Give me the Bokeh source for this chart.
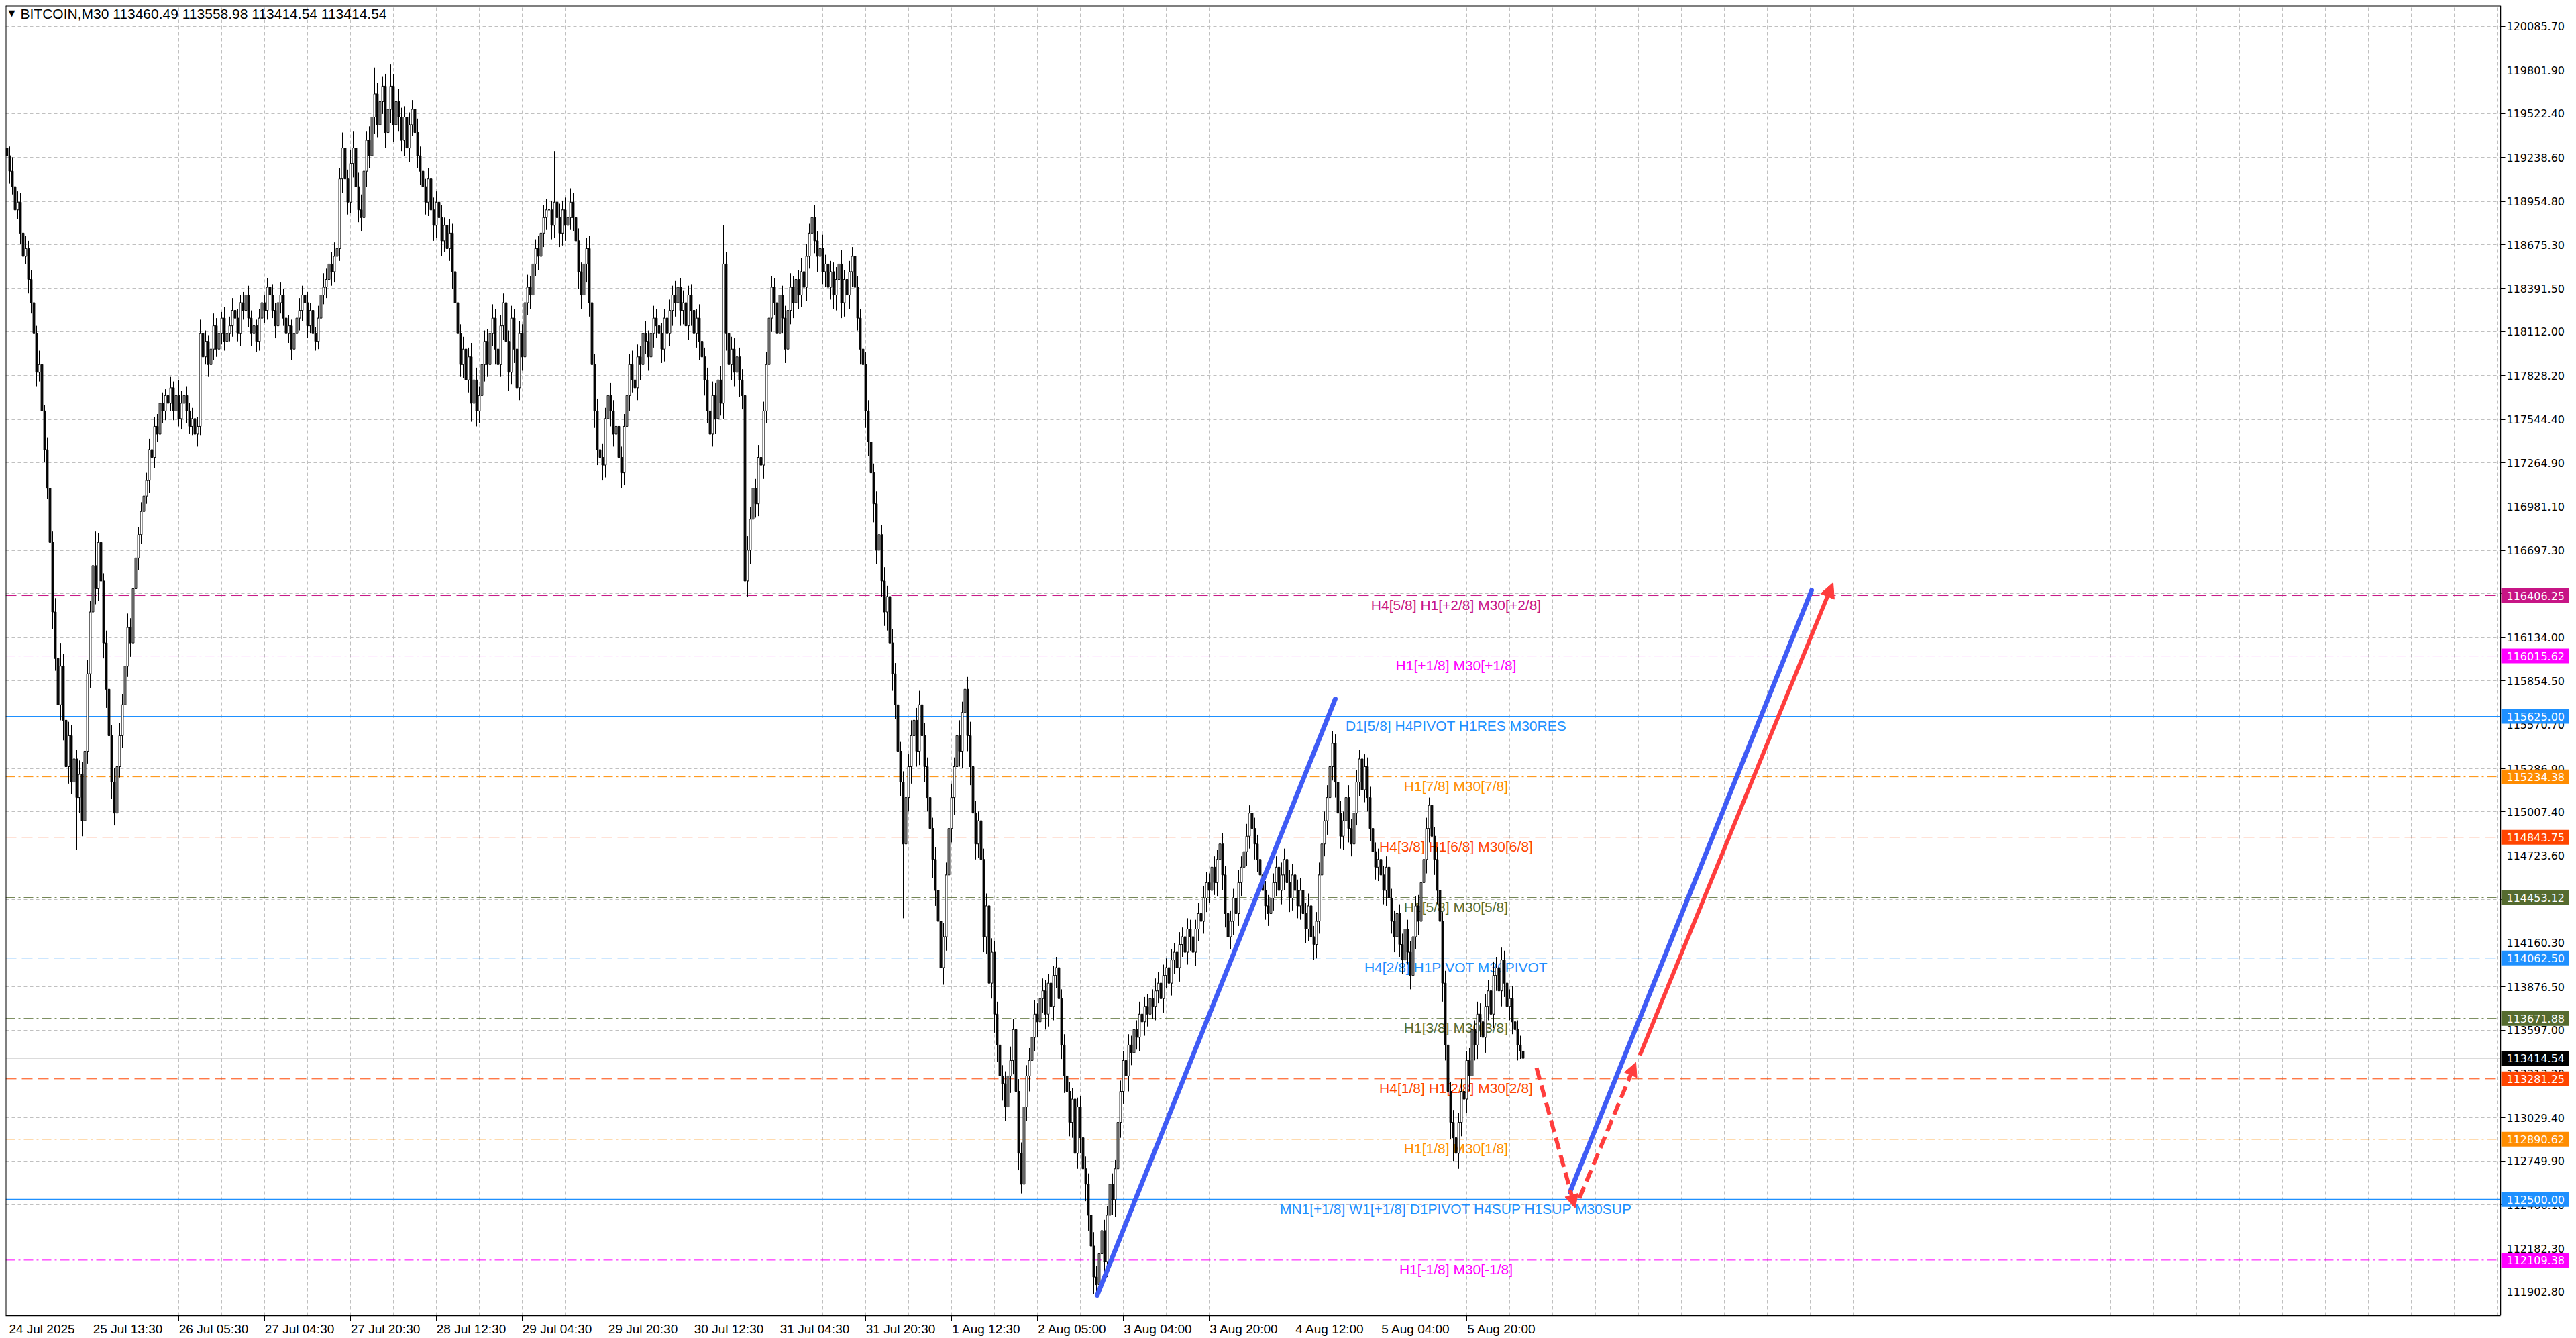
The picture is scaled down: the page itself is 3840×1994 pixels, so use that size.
from bokeh.plotting import figure
from bokeh.models import (Span, FixedTicker, PrintfTickFormatter, Arrow,
                          NormalHead, ColumnDataSource, Range1d)
from bokeh.core.properties import value
from bokeh.embed import file_html
from bokeh.resources import INLINE

# ---------------- data ----------------
symbol = "BITCOIN,M30"
last_ohlc = [113460.49, 113558.98, 113414.54, 113414.54]

first_open = 119300
closes = [
    119250, 119150, 119050, 118900, 118950, 118750, 118600, 118650, 118450, 118300,
    118100, 117850, 117900, 117600, 117350, 117100, 116750, 116300, 116000, 115700,
    115950, 115600, 115300, 115500, 115200, 115350, 115100, 115250, 114950, 115400,
    115900, 116300, 116600, 116450, 116750, 116500, 116100, 115800, 115500, 115200,
    115000, 115300, 115500, 115700, 115950, 116200, 116100, 116450, 116650, 116800,
    116950, 117050, 117150, 117350, 117300, 117500, 117450, 117650, 117600, 117700,
    117650, 117750, 117600, 117700, 117550, 117650, 117700, 117600, 117500, 117550,
    117450, 117500, 118100, 117950, 118050, 117900, 118000, 118150, 118000, 118100,
    118200, 118050, 118100, 118150, 118250, 118200, 118100, 118300, 118250, 118350,
    118200, 118100, 118150, 118050, 118200, 118300, 118250, 118400, 118350, 118250,
    118150, 118300, 118350, 118200, 118100, 118150, 118000, 118100, 118200, 118250,
    118350, 118300, 118150, 118250, 118100, 118050, 118200, 118350, 118400, 118450,
    118550, 118500, 118600, 118650, 119100, 119300, 119100, 118950, 119200, 119300,
    119050, 118900, 118850, 119150, 119350, 119250, 119500, 119650, 119450, 119600,
    119700, 119400, 119550, 119700, 119450, 119600, 119500, 119350, 119500, 119300,
    119450, 119550, 119400, 119250, 119150, 119050, 118950, 119100, 118900, 118800,
    118950, 118850, 118700, 118800, 118650, 118750, 118500, 118300, 118100, 117900,
    118000, 117800, 117950, 117650, 117800, 117600, 117700, 117900, 118050, 117900,
    118100, 118200, 118000, 117900, 118150, 118300, 118050, 117850, 118200, 118000,
    117750, 118100, 117950, 118300, 118400, 118350, 118550, 118650, 118600, 118750,
    118850, 118900, 118900, 118800, 118950, 118850, 118750, 118900, 118800, 118850,
    118950, 118850, 118700, 118500, 118350, 118550, 118650, 118300, 117900, 117600,
    117350, 117300, 117250, 117550, 117700, 117600, 117450, 117500, 117300, 117200,
    117500, 117700, 117900, 117800, 117750, 117950, 117900, 118100, 118050, 117950,
    118100, 118200, 118150, 118100, 118000, 118200, 118100, 118250, 118350, 118300,
    118400, 118250, 118300, 118150, 118350, 118250, 118100, 118200, 118050, 117950,
    117800, 117600, 117450, 117700, 117550, 117800, 117650, 118550, 118100, 117900,
    118000, 117850, 117950, 117800, 117700, 116500, 116700, 116900, 117100, 117000,
    117300, 117250, 117600, 117900, 118200, 118400, 118300, 118100, 118350, 118200,
    118000, 118250, 118400, 118300, 118450, 118350, 118500, 118400, 118600, 118750,
    118850, 118700, 118600, 118650, 118500, 118550, 118400, 118500, 118350, 118450,
    118550, 118300, 118450, 118350, 118500, 118600, 118400, 118200, 118000, 117900,
    117600, 117400, 117200, 117000, 116700, 116800, 116500, 116300, 116400, 116100,
    115900, 115700, 115400, 115200, 114800, 115100, 115300, 115500, 115600, 115400,
    115700, 115500, 115300, 115100, 114900, 114700, 114500, 114300, 114000, 114200,
    114600, 114900, 115100, 115300, 115500, 115400, 115650, 115800, 115500, 115300,
    115000, 114800, 114950, 114700, 114200, 114400, 113900, 114100, 113700, 113500,
    113300, 113250, 113100, 113300, 113400, 113600, 113200, 112800, 112600, 113100,
    113300, 113400, 113550, 113700, 113650, 113800, 113850, 113700, 113900, 113750,
    113950, 114000, 113800, 113500, 113300, 113200, 113000, 113150, 112800, 113100,
    112900, 112700, 112600, 112400, 112200, 112000, 111950, 112150, 112300, 112100,
    112400, 112600, 112500, 112700, 113000, 113200, 113400, 113300, 113500, 113450,
    113600, 113550, 113700, 113650, 113750, 113700, 113800, 113750, 113850, 113900,
    113800, 113950, 114000, 113900, 114050, 114100, 114000, 114150, 114200, 114100,
    114250, 114200, 114100, 114250, 114350, 114300, 114450, 114550, 114500, 114650,
    114550, 114700, 114800, 114600, 114350, 114200, 114300, 114450, 114350, 114550,
    114650, 114750, 114850, 115000, 114900, 114800, 114700, 114600, 114500, 114400,
    114350, 114450, 114550, 114650, 114500, 114600, 114700, 114550, 114450, 114600,
    114500, 114400, 114500, 114350, 114250, 114400, 114200, 114150, 114300, 114600,
    114800, 114950, 115100, 115300, 115450, 115200, 115000, 114850, 114950, 115100,
    114900, 114800, 115000, 115200, 115350, 115150, 115300, 115100, 114900, 114750,
    114650, 114700, 114600, 114500, 114650, 114450, 114300, 114200, 114350, 114150,
    114050, 114250, 114100, 113950, 114200, 114400, 114300, 114550, 114700, 114900,
    115050, 114850, 114700, 114500, 114300, 113900, 113500, 113200, 113000, 112900,
    112800, 113000, 113200, 113150, 113400, 113300, 113600, 113500, 113700, 113650,
    113550, 113750, 113850, 113700, 113950, 114000, 113850, 114050, 113900, 113750,
    113800, 113650, 113600, 113500, 113460.49, 113414.54,
]
up_wick = [
    80, 60, 90, 50, 70, 60, 40, 80, 50, 60,
    70, 50, 90, 60, 40, 80, 50, 70, 90, 60,
    150, 80, 120, 90, 70, 110, 60, 90, 80, 120,
    90, 70, 120, 220, 60, 100, 50, 80, 60, 70,
    90, 60, 80, 70, 50, 90, 60, 80, 70, 50,
    60, 80, 50, 70, 40, 60, 80, 50, 70, 40,
    50, 70, 40, 60, 100, 80, 40, 60, 50, 70,
    40, 60, 90, 50, 70, 40, 60, 80, 50, 60,
    40, 70, 50, 60, 80, 40, 60, 50, 70, 40,
    60, 50, 70, 40, 60, 80, 50, 60, 40, 70,
    50, 60, 80, 40, 50, 70, 40, 60, 50, 80,
    60, 40, 70, 50, 60, 40, 80, 60, 90, 70,
    100, 80, 90, 120, 70, 100, 80, 60, 90, 110,
    70, 90, 100, 80, 60, 90, 60, 170, 70, 90,
    60, 80, 90, 140, 80, 70, 80, 60, 70, 90,
    80, 60, 70, 90, 60, 80, 50, 70, 60, 80,
    70, 60, 80, 50, 70, 90, 60, 80, 70, 60,
    80, 70, 60, 90, 70, 80, 60, 90, 70, 80,
    70, 90, 60, 80, 70, 60, 90, 70, 80, 60,
    70, 80, 60, 90, 80, 70, 90, 60, 80, 90,
    80, 70, 90, 60, 330, 70, 90, 60, 80, 70,
    90, 60, 70, 80, 60, 90, 70, 80, 60, 70,
    80, 60, 90, 70, 60, 80, 70, 60, 90, 70,
    80, 60, 70, 90, 60, 80, 70, 60, 80, 70,
    70, 80, 60, 90, 70, 60, 80, 70, 60, 90,
    70, 60, 80, 90, 60, 70, 80, 60, 90, 70,
    60, 80, 70, 90, 80, 60, 90, 250, 80, 60,
    80, 70, 90, 60, 70, 150, 90, 80, 70, 60,
    80, 70, 60, 80, 90, 70, 60, 80, 70, 60,
    80, 60, 90, 70, 80, 60, 90, 70, 80, 60,
    70, 80, 60, 70, 90, 60, 80, 70, 60, 80,
    70, 90, 60, 80, 70, 60, 80, 70, 60, 90,
    80, 70, 90, 60, 80, 70, 60, 90, 70, 80,
    90, 70, 80, 60, 70, 90, 80, 100, 70, 80,
    90, 70, 80, 60, 90, 70, 80, 60, 70, 90,
    80, 70, 90, 60, 80, 100, 70, 60, 80, 90,
    70, 80, 60, 90, 70, 80, 60, 90, 70, 80,
    60, 70, 80, 60, 90, 70, 60, 80, 70, 60,
    70, 80, 60, 90, 70, 60, 80, 70, 60, 70,
    60, 70, 80, 60, 70, 90, 60, 70, 80, 60,
    70, 60, 80, 70, 60, 90, 70, 60, 80, 70,
    60, 80, 70, 60, 90, 70, 60, 80, 70, 60,
    70, 60, 80, 70, 60, 80, 70, 60, 80, 70,
    60, 70, 60, 80, 70, 60, 70, 80, 60, 70,
    70, 60, 80, 60, 70, 60, 80, 70, 60, 80,
    70, 60, 80, 70, 60, 80, 70, 60, 70, 80,
    70, 60, 80, 50, 60, 70, 60, 80, 70, 60,
    70, 80, 60, 70, 60, 80, 70, 60, 80, 70,
    60, 70, 80, 60, 70, 80, 60, 70, 60, 80,
    70, 60, 80, 70, 80, 60, 70, 80, 60, 70,
    80, 60, 70, 80, 60, 70, 80, 60, 70, 80,
    60, 70, 80, 60, 70, 80, 60, 70, 80, 60,
    70, 80, 60, 70, 80, 60, 70, 80, 60, 70,
    50, 70, 60, 80, 70, 60, 80, 70, 60, 80,
    70, 60, 80, 70, 60, 80, 70, 60, 80, 70,
    60, 80, 70, 60, 90, 70, 130, 80, 60, 70,
    60, 80, 70, 60, 60, 98.49,
]
dn_wick = [
    60, 80, 50, 90, 60, 70, 80, 50, 90, 70,
    80, 90, 60, 100, 80, 70, 90, 110, 80, 120,
    100, 130, 90, 110, 80, 120, 340, 100, 100, 90,
    80, 90, 70, 100, 80, 90, 100, 120, 90, 110,
    80, 90, 70, 80, 60, 70, 90, 60, 70, 80,
    60, 70, 50, 80, 60, 70, 50, 60, 80, 60,
    70, 50, 60, 80, 50, 70, 60, 80, 50, 60,
    70, 80, 60, 70, 50, 80, 60, 70, 50, 60,
    70, 60, 80, 50, 70, 60, 50, 80, 60, 70,
    60, 80, 50, 70, 60, 50, 80, 60, 70, 50,
    80, 60, 70, 50, 80, 60, 70, 50, 60, 80,
    70, 60, 80, 50, 70, 60, 50, 80, 60, 70,
    80, 90, 70, 100, 80, 90, 110, 80, 70, 90,
    100, 80, 90, 70, 100, 80, 90, 110, 80, 90,
    80, 100, 70, 90, 110, 80, 90, 70, 100, 80,
    90, 70, 100, 80, 90, 110, 80, 90, 70, 100,
    80, 90, 100, 70, 90, 80, 110, 90, 100, 80,
    90, 110, 80, 120, 90, 100, 80, 90, 110, 80,
    90, 80, 100, 110, 80, 90, 100, 120, 80, 90,
    110, 80, 90, 100, 80, 90, 100, 80, 90, 80,
    90, 80, 100, 90, 80, 100, 90, 80, 100, 90,
    80, 90, 100, 110, 90, 100, 120, 90, 80, 110,
    100, 480, 100, 80, 90, 100, 80, 110, 90, 100,
    80, 90, 100, 80, 90, 80, 100, 90, 80, 90,
    80, 90, 80, 100, 90, 80, 90, 80, 100, 90,
    80, 100, 90, 110, 90, 100, 110, 90, 120, 90,
    100, 80, 90, 80, 100, 90, 80, 100, 110, 90,
    100, 90, 80, 110, 90, 700, 100, 90, 110, 90,
    80, 100, 90, 80, 100, 90, 80, 90, 80, 100,
    90, 80, 90, 100, 80, 90, 80, 100, 90, 80,
    90, 80, 100, 90, 80, 100, 90, 80, 90, 100,
    80, 100, 90, 80, 90, 100, 90, 80, 100, 90,
    110, 90, 100, 120, 90, 110, 100, 90, 120, 100,
    110, 90, 100, 90, 480, 100, 90, 110, 90, 100,
    90, 110, 100, 90, 110, 120, 100, 90, 100, 110,
    90, 100, 90, 110, 90, 100, 110, 90, 100, 120,
    110, 100, 90, 120, 100, 110, 90, 100, 120, 110,
    100, 110, 90, 100, 110, 90, 100, 110, 60, 90,
    90, 100, 80, 90, 100, 80, 90, 100, 80, 90,
    90, 80, 100, 90, 110, 100, 90, 100, 110, 100,
    100, 90, 110, 100, 90, 110, 60, 90, 100, 90,
    100, 90, 100, 110, 90, 100, 80, 90, 100, 80,
    90, 80, 90, 80, 90, 80, 90, 80, 90, 80,
    80, 90, 80, 90, 80, 90, 80, 90, 80, 90,
    80, 90, 80, 90, 80, 90, 80, 90, 80, 90,
    80, 90, 80, 100, 90, 100, 80, 90, 100, 80,
    90, 80, 90, 80, 90, 100, 80, 90, 80, 90,
    80, 90, 80, 90, 80, 90, 100, 80, 90, 80,
    90, 80, 90, 100, 90, 80, 90, 100, 90, 80,
    90, 80, 90, 80, 90, 100, 90, 80, 90, 80,
    90, 80, 90, 80, 90, 100, 80, 90, 80, 90,
    80, 90, 80, 90, 100, 90, 80, 100, 90, 80,
    90, 100, 80, 90, 100, 80, 90, 100, 80, 90,
    90, 80, 100, 90, 100, 120, 100, 90, 110, 150,
    140, 100, 90, 110, 90, 100, 90, 100, 90, 100,
    90, 100, 90, 100, 90, 100, 90, 100, 90, 100,
    90, 80, 90, 100, 50, 0,
]

# axis ticks
price_ticks = [120085.7, 119801.9, 119522.4, 119238.6, 118954.8, 118675.3, 118391.5,
               118112.0, 117828.2, 117544.4, 117264.9, 116981.1, 116697.3, 116417.8,
               116134.0, 115854.5, 115570.7, 115286.9, 115007.4, 114723.6, 114439.8,
               114160.3, 113876.5, 113597.0, 113313.2, 113029.4, 112749.9, 112466.1,
               112182.3, 111902.8]
time_labels = ["24 Jul 2025", "25 Jul 13:30", "26 Jul 05:30", "27 Jul 04:30", "27 Jul 20:30",
               "28 Jul 12:30", "29 Jul 04:30", "29 Jul 20:30", "30 Jul 12:30", "31 Jul 04:30",
               "31 Jul 20:30", "1 Aug 12:30", "2 Aug 05:00", "3 Aug 04:00", "3 Aug 20:00",
               "4 Aug 12:00", "5 Aug 04:00", "5 Aug 20:00"]
time_tick_bars = [0, 32, 64, 96, 128, 160, 192, 224, 256, 288, 320, 352, 384, 416, 448,
                  480, 512, 544]

# levels
level_prices = [116406.25, 116015.62, 115625.00, 115234.38, 114843.75, 114453.12,
                114062.50, 113671.88, 113281.25, 112890.62, 112500.00, 112109.38]
level_texts = ["H4[5/8] H1[+2/8] M30[+2/8]", "H1[+1/8] M30[+1/8]",
               "D1[5/8] H4PIVOT H1RES M30RES", "H1[7/8] M30[7/8]",
               "H4[3/8] H1[6/8] M30[6/8]", "H1[5/8] M30[5/8]",
               "H4[2/8] H1PIVOT M30PIVOT", "H1[3/8] M30[3/8]",
               "H4[1/8] H1[2/8] M30[2/8]", "H1[1/8] M30[1/8]",
               "MN1[+1/8] W1[+1/8] D1PIVOT H4SUP H1SUP M30SUP", "H1[-1/8] M30[-1/8]"]
current_price = 113414.54

# drawn analysis lines (bar index, price)
blue_xs = [[406.25, 495.0], [582.5, 672.5]]
blue_ys = [[111881, 115738], [112550, 116440]]
red_solid = dict(x0=[608.5], y0=[113434], x1=[680.5], y1=[116489])
red_dashed = dict(x0=[570.0, 586.0], y0=[113352, 112510], x1=[584.4, 607.0], y1=[112445, 113387])

# ---------------- styles ----------------
level_colors = ["#C71585", "#FF00FF", "#1E90FF", "#FF8C00", "#FF4500", "#556B2F",
                "#1E90FF", "#556B2F", "#FF4500", "#FF8C00", "#1E90FF", "#FF00FF"]
DASH = "16 8"
DDOT = "14 5 3 5"
level_dashes = [DASH, DDOT, "solid", DDOT, DASH, DDOT, DASH, DDOT, DASH, DDOT, "solid", DDOT]
level_widths = [1, 1, 1.2, 1, 1, 1, 1, 1, 1, 1, 2.2, 1]

TOTAL_W = 3824
CHART_W = 3719          # chart area width; the rest is the price scale strip
FRAME_H = 1952
PX_PER_BAR = 4.0
X0 = -0.5
XA = X0 + CHART_W / PX_PER_BAR      # location of price axis
X1 = X0 + TOTAL_W / PX_PER_BAR
Y0, Y1 = 111750.9, 120220.2
GRID = "#C0C0C0"
SANS = "Liberation Sans"

# ---------------- derived ----------------
n = len(closes)
bars = list(range(n))
opens = [first_open] + closes[:-1]
tops = [max(o, c) for o, c in zip(opens, closes)]
bottoms = [min(o, c) for o, c in zip(opens, closes)]
highs = [t + u for t, u in zip(tops, up_wick)]
lows = [b - d for b, d in zip(bottoms, dn_wick)]
fills = ["white" if c >= o else "black" for o, c in zip(opens, closes)]
candles = ColumnDataSource(dict(x=bars, top=tops, bottom=bottoms, high=highs, low=lows, fill=fills))

p = figure(frame_width=TOTAL_W, frame_height=FRAME_H,
           x_range=Range1d(X0, X1), y_range=Range1d(Y0, Y1),
           y_axis_location="right", x_axis_location="below",
           output_backend="svg", toolbar_location=None, tools="",
           min_border_left=8, min_border_right=0, min_border_top=8, min_border_bottom=26)
p.background_fill_color = "white"
p.border_fill_color = "white"
p.outline_line_color = None

# y axis, pinned at the edge of the chart area
p.yaxis.fixed_location = XA
p.yaxis.ticker = FixedTicker(ticks=price_ticks)
p.yaxis.formatter = PrintfTickFormatter(format="%.2f")
p.yaxis.major_label_text_font = "DejaVu Sans"
p.yaxis.major_label_text_font_size = "16px"
p.yaxis.major_label_text_color = "black"
p.yaxis.major_tick_out = 7
p.yaxis.major_tick_in = 0
p.yaxis.minor_tick_line_color = None
p.yaxis.major_label_standoff = 2
p.yaxis.axis_line_color = "black"
p.yaxis.axis_line_width = 1.5

# x axis: label centred so that its left edge starts at the tick
cw = {" ": 0.278, ":": 0.278, "J": 0.5, "u": 0.556, "l": 0.222, "A": 0.667, "g": 0.556}
FS = 19
centers = []
for t, lab in zip(time_tick_bars, time_labels):
    w = sum(cw.get(ch, 0.556) for ch in lab) * FS
    centers.append(int(round(t + (w / 2 + 2) / PX_PER_BAR)))
p.xaxis.ticker = FixedTicker(ticks=centers, minor_ticks=time_tick_bars)
p.xaxis.major_label_overrides = {c: lab for c, lab in zip(centers, time_labels)}
p.xaxis.bounds = (X0, XA)
p.xaxis.major_tick_line_color = None
p.xaxis.major_tick_out = 0
p.xaxis.major_tick_in = 0
p.xaxis.minor_tick_out = 8
p.xaxis.minor_tick_in = 0
p.xaxis.minor_tick_line_color = "black"
p.xaxis.major_label_standoff = 1
p.xaxis.major_label_text_font = SANS
p.xaxis.major_label_text_font_size = f"{FS}px"
p.xaxis.major_label_text_color = "black"
p.xaxis.axis_line_color = "black"
p.xaxis.axis_line_width = 1.5

# grids
p.xgrid.ticker = FixedTicker(ticks=list(range(16, int(XA), 16)))
for g in (p.xgrid, p.ygrid):
    g.grid_line_color = GRID
    g.grid_line_dash = "5 4"
    g.grid_line_width = 1

# level lines
for pr, col, dsh, lw in zip(level_prices, level_colors, level_dashes, level_widths):
    p.add_layout(Span(location=pr, dimension="width", line_color=col, line_dash=dsh,
                      line_width=lw, level="underlay"))
p.add_layout(Span(location=current_price, dimension="width", line_color="#C0C0C0",
                  line_width=1, level="underlay"))

# white price-scale strip and chart border (left / top)
p.quad(left=[XA], right=[X1], bottom=[Y0], top=[Y1], fill_color="white", line_color=None)
p.segment(x0=[X0, X0], y0=[Y0, Y1], x1=[X0, XA], y1=[Y1, Y1], line_color="black", line_width=2)

# level texts
lvl_src = ColumnDataSource(dict(x=[540] * len(level_prices), y=level_prices,
                                text=level_texts, color=level_colors))
p.text(x="x", y="y", text="text", text_color="color", source=lvl_src,
       text_align="center", text_baseline="top", y_offset=2,
       text_font=value(SANS), text_font_size=value("21px"))

# candles
p.segment(x0="x", y0="low", x1="x", y1="high", source=candles, line_color="black", line_width=1)
p.vbar(x="x", width=0.7, top="top", bottom="bottom", source=candles,
       fill_color="fill", line_color="black", line_width=1)

# analysis lines
p.multi_line(xs=blue_xs, ys=blue_ys, line_color="#3F5BF5", line_width=7, line_cap="round")
RED = "#FF3D3D"
p.add_layout(Arrow(end=NormalHead(size=22, fill_color=RED, line_color=RED),
                   source=ColumnDataSource(red_solid), x_start="x0", y_start="y0",
                   x_end="x1", y_end="y1", line_color=RED, line_width=6))
p.add_layout(Arrow(end=NormalHead(size=20, fill_color=RED, line_color=RED),
                   source=ColumnDataSource(red_dashed), x_start="x0", y_start="y0",
                   x_end="x1", y_end="y1", line_color=RED, line_width=6, line_dash="18 9"))

# header
header = f"{symbol}  " + " ".join(f"{v:.2f}" for v in last_ohlc)
p.text(x=[X0], y=[Y1], text=["\u25BC"], x_offset=4, y_offset=3, text_baseline="top",
       text_font=value("DejaVu Sans"), text_font_size=value("13px"), text_color="black")
p.text(x=[X0], y=[Y1], text=[header], x_offset=22, y_offset=0, text_baseline="top",
       text_font=value(SANS), text_font_size=value("21px"), text_color="black")

# price boxes on the price scale (drawn above the axis labels)
box_prices = level_prices + [current_price]
box_colors = level_colors + ["black"]
BOX_CX = XA + 51.5 / PX_PER_BAR
box_src = ColumnDataSource(dict(x=[XA] * len(box_prices), bx=[BOX_CX] * len(box_prices),
                                y=box_prices, text=[f"{v:.2f}" for v in box_prices],
                                color=box_colors))
p.rect(x="bx", y="y", width=101, height=22, width_units="screen", height_units="screen",
       fill_color="color", line_color=None, source=box_src, level="overlay")
p.text(x="x", y="y", text="text", source=box_src, x_offset=9, text_align="left",
       text_baseline="middle", text_color="white", text_font=value("DejaVu Sans"),
       text_font_size=value("16px"), level="overlay")

open("out.html", "w").write(file_html(p, INLINE))
